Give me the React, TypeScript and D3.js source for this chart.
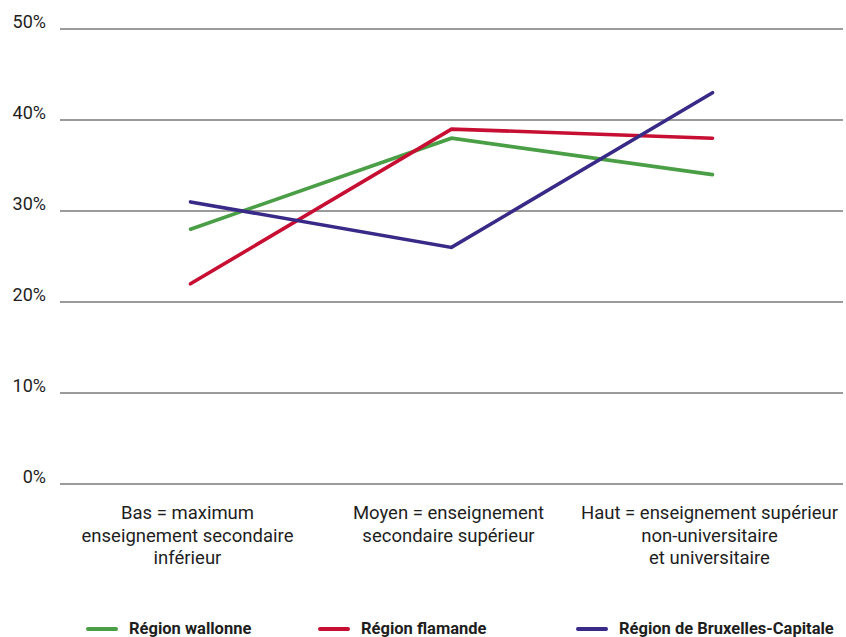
import React from "react";
import * as d3 from "d3";

// Education levels (x categories), each split into display lines
const categories = ["Bas", "Moyen", "Haut"];
const categoryLines: string[][] = [
  ["Bas = maximum", "enseignement secondaire", "inférieur"],
  ["Moyen = enseignement", "secondaire supérieur"],
  ["Haut = enseignement supérieur", "non-universitaire", "et universitaire"],
];

// Shares per region, in percent
const wallonne = [28, 38, 34];
const flamande = [22, 39, 38];
const bruxelles = [31, 26, 43];

const yTicks = [0, 10, 20, 30, 40, 50];

const seriesNames = ["Région wallonne", "Région flamande", "Région de Bruxelles-Capitale"];
const seriesColors = ["#4a9e45", "#c70f33", "#382a86"];
const seriesValues = [wallonne, flamande, bruxelles];

const W = 846;
const H = 637;
const FONT = "Roboto, 'Noto Sans', sans-serif";

export default function App() {
  const x = d3.scaleBand<string>().domain(categories).range([60, 843]).padding(0);
  const y = d3.scaleLinear().domain([0, 50]).range([484, 29]);
  const cx = (c: string) => (x(c) ?? 0) + x.bandwidth() / 2;

  const line = d3
    .line<number>()
    .x((_, i) => cx(categories[i]))
    .y((v) => y(v));

  const legendX = [86, 318, 576];

  return (
    <div style={{ position: "absolute", left: 0, top: 0 }}>
      <svg width={W} height={H} style={{ display: "block", background: "#fff" }}>
        {/* gridlines + y labels */}
        {yTicks.map((t) => (
          <g key={t}>
            <line x1={60} x2={843} y1={y(t)} y2={y(t)} stroke="#7a7a7a" strokeWidth={1.4} />
            <text
              x={46}
              y={y(t) - 1.5}
              textAnchor="end"
              fontFamily={FONT}
              fontSize={18}
              fill="#1e1e1e"
            >
              {t}%
            </text>
          </g>
        ))}

        {/* category labels */}
        {categories.map((c, i) => (
          <text
            key={c}
            x={cx(c) - 3}
            textAnchor="middle"
            fontFamily={FONT}
            fontSize={18.5}
            fill="#1e1e1e"
          >
            {categoryLines[i].map((l, j) => (
              <tspan key={j} x={cx(c) - 3} y={519 + j * 22.5}>
                {l}
              </tspan>
            ))}
          </text>
        ))}

        {/* series lines */}
        {seriesValues.map((vals, i) => (
          <path
            key={seriesNames[i]}
            d={line(vals) ?? ""}
            fill="none"
            stroke={seriesColors[i]}
            strokeWidth={3.6}
            strokeLinecap="round"
            strokeLinejoin="miter"
          />
        ))}

        {/* legend */}
        {seriesNames.map((n, i) => (
          <g key={n} transform={`translate(${legendX[i]},629)`}>
            <line x1={2} x2={30} y1={0} y2={0} stroke={seriesColors[i]} strokeWidth={4} strokeLinecap="round" />
            <text x={43} y={5} fontFamily={FONT} fontSize={16.5} fontWeight={700} fill="#1e1e1e">
              {n}
            </text>
          </g>
        ))}
      </svg>
    </div>
  );
}
